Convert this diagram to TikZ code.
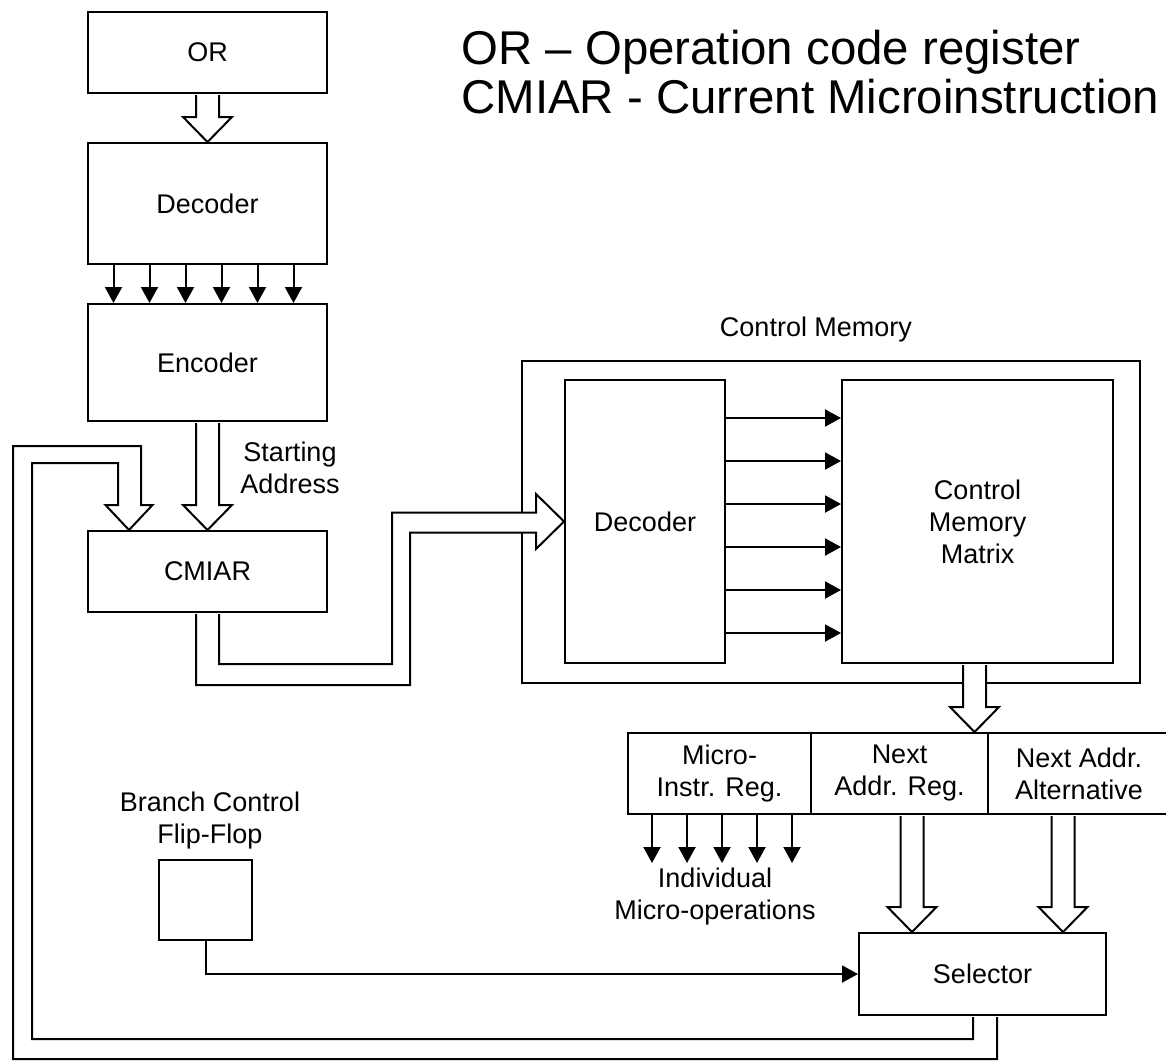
\documentclass[tikz,border=0pt]{standalone}
\usepackage{fontspec}
\setmainfont{Liberation Sans}
\usetikzlibrary{arrows.meta,calc}
\tikzset{
  block/.style={rectangle, draw, line width=1pt, align=center, inner sep=0pt, font=\fontsize{13.5pt}{16pt}\selectfont},
  lbl/.style={align=center, inner sep=0pt, font=\fontsize{13.5pt}{16pt}\selectfont},
  keytext/.style={anchor=base west, inner sep=0pt, font=\fontsize{23.7pt}{25pt}\selectfont},
  sig/.style={line width=1pt, -{Triangle[length=8pt,width=8.5pt]}},
  hollow/.style={draw, line width=1pt, fill=white, line join=miter}
}
\newcommand{\hollowdown}[2]{%
  \draw[hollow] ($(#2|-#1)+(-11.5,1)$) -- ($(#2)+(-11.5,-25)$) -- ($(#2)+(-24.5,-25)$) -- (#2)
    -- ($(#2)+(24.5,-25)$) -- ($(#2)+(11.5,-25)$) -- ($(#2|-#1)+(11.5,1)$);}
\begin{document}
\begin{tikzpicture}[x=0.5pt, y=-0.5pt]
    \useasboundingbox (0,0) rectangle (1166,1060);

    \node [keytext] (key1) at (461,64) {OR – Operation code register};
    \node [keytext] (key2) at (461,113) {CMIAR - Current Microinstruction};

    \node [block, minimum width=119.5pt, minimum height=40.5pt] (orbox) at (207.5,52.5) {OR};
    \node [block, minimum width=119.5pt, minimum height=60.5pt] (dectop) at (207.5,203.5) {Decoder};
    \node [block, minimum width=119.5pt, minimum height=58.5pt] (enc) at (207.5,362.5) {Encoder};
    \node [block, minimum width=119.5pt, minimum height=40.5pt] (cmiar) at (207.5,571.5) {CMIAR};
    \node [lbl] (start) at (290,468) {Starting\\Address};

    \node [block, minimum width=309pt, minimum height=161pt] (cm) at (831,522) {};
    \node [lbl] (cmlabel) at (816,330) {Control Memory};
    \node [block, minimum width=80pt, minimum height=141.5pt] (cmdec) at (645,521.5) {Decoder};
    \node [block, minimum width=135.5pt, minimum height=141.5pt] (matrix) at (977.5,521.5) {Control\\Memory\\Matrix};

    \node [block, minimum width=91.5pt, minimum height=40.5pt] (micro) at (719.5,773.5) {Micro-\\Instr. Reg.};
    \node [block, minimum width=88.5pt, minimum height=40.5pt] (nextreg) at (899.5,773.5) {Next\\Addr. Reg.};
    \node [block, minimum width=91pt, minimum height=40.5pt] (altreg) at (1079,773.5) {Next Addr.\\Alternative};
    \node [lbl] (ops) at (715,897) {Individual\\Micro-operations};
    \node [block, minimum width=123.5pt, minimum height=41pt] (sel) at (982.5,974) {Selector};

    \node [lbl] (bcfflabel) at (210,821) {Branch Control\\Flip-Flop};
    \node [block, minimum width=46.5pt, minimum height=40pt] (bcff) at (205.5,900) {};

    \coordinate (fbtip) at ($(cmiar.north)+(-78.5,0)$);
    \coordinate (fbtop) at (22.5,454.5);
    \coordinate (fbbot) at (22.5,1049);
    \coordinate (bend) at (401,674.5);
    \coordinate (regin) at ($(nextreg.north)+(75,0)$);
    \coordinate (natip) at ($(sel.north)+(-70.5,0)$);
    \coordinate (alttip) at ($(sel.north)+(80.5,0)$);
    \coordinate (opsin) at (719.5,863);

    \hollowdown{orbox.south}{dectop.north}
    \foreach \i in {0,...,5}
        \draw[sig] ($(dectop.south)+(-94+36*\i,0)$) -- ($(enc.north)+(-94+36*\i,0)$);
    \hollowdown{enc.south}{cmiar.north}

    \draw[hollow] ($(cmiar.south)+(-11.5,1)$) |- ($(bend)+(9,10.5)$) |- ($(cmdec.west)+(-28,11)$)
        -- ($(cmdec.west)+(-28,27.5)$) -- (cmdec.west) -- ($(cmdec.west)+(-28,-27.5)$)
        -- ($(cmdec.west)+(-28,-9)$) -| ($(bend)+(-9,-10.5)$) -| ($(cmiar.south)+(11.5,1)$);

    \foreach \i in {0,...,5}
        \draw[sig] ($(cmdec.east)+(0,-103.5+43*\i)$) -- ($(matrix.west)+(0,-103.5+43*\i)$);
    \hollowdown{matrix.south}{regin}

    \foreach \i in {0,...,4}
        \draw[sig] ($(micro.south)+(-67.5+35*\i,0)$) -- ($(opsin)+(-67.5+35*\i,0)$);
    \hollowdown{nextreg.south}{natip}
    \hollowdown{altreg.south}{alttip}

    \draw[sig] (bcff.south) |- (sel.west);

    \draw[hollow] ($(sel.south)+(-9.5,1)$) |- ($(fbbot)+(9.5,-10)$) |- ($(fbtip |- fbtop)+(-11,8.5)$)
        -- ($(fbtip)+(-11,-25)$) -- ($(fbtip)+(-23.5,-25)$) -- (fbtip) -- ($(fbtip)+(23.5,-25)$)
        -- ($(fbtip)+(12,-25)$) |- ($(fbtop)+(-9.5,-8.5)$) |- ($(sel.south |- fbbot)+(14.5,10)$)
        -- ($(sel.south)+(14.5,1)$);
\end{tikzpicture}
\end{document}
